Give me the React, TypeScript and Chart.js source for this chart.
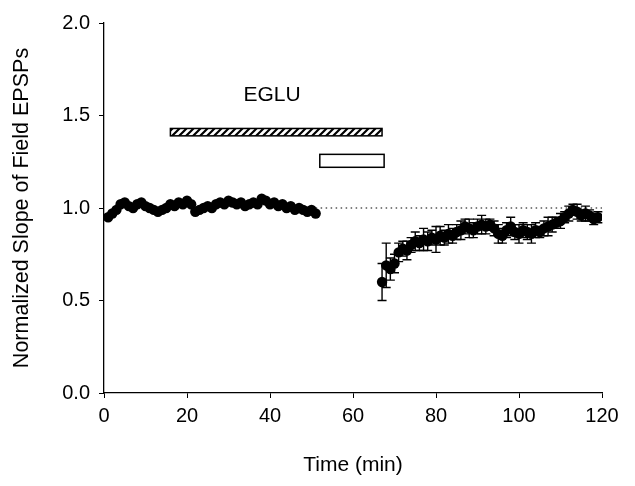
import React, { useEffect, useRef } from "react";
import { Chart, registerables } from "chart.js";

Chart.register(...registerables);

// Baseline (before EGLU washout gap)
const baselineTime = [
  1, 2, 3, 4, 5, 6, 7, 8, 9, 10, 11, 12, 13, 14, 15, 16, 17, 18, 19, 20, 21, 22, 23, 24, 25,
  26, 27, 28, 29, 30, 31, 32, 33, 34, 35, 36, 37, 38, 39, 40, 41, 42, 43, 44, 45, 46, 47, 48,
  49, 50, 51,
];
const baselineSlope = [
  0.95, 0.97, 0.99, 1.02, 1.03, 1.01, 1.0, 1.02, 1.03, 1.01, 1.0, 0.99, 0.98, 0.99, 1.0, 1.02,
  1.01, 1.03, 1.02, 1.04, 1.02, 0.98, 0.99, 1.0, 1.01, 1.0, 1.02, 1.03, 1.02, 1.04, 1.03, 1.02,
  1.03, 1.01, 1.02, 1.03, 1.02, 1.05, 1.04, 1.02, 1.03, 1.01, 1.02, 1.0, 1.01, 0.99, 1.0, 0.99,
  0.98, 0.99, 0.97,
];

// Recovery phase
const recoveryTime = [
  67, 68, 69, 70, 71, 72, 73, 74, 75, 76, 77, 78, 79, 80, 81, 82, 83, 84, 85, 86, 87, 88, 89,
  90, 91, 92, 93, 94, 95, 96, 97, 98, 99, 100, 101, 102, 103, 104, 105, 106, 107, 108, 109, 110,
  111, 112, 113, 114, 115, 116, 117, 118, 119,
];
const recoverySlope = [
  0.6, 0.69, 0.67, 0.7, 0.76, 0.78, 0.77, 0.8, 0.82, 0.81, 0.83, 0.82, 0.84, 0.83, 0.85, 0.84,
  0.86, 0.85, 0.87, 0.88, 0.9, 0.89, 0.88, 0.9, 0.91, 0.9, 0.91, 0.89, 0.86, 0.85, 0.88, 0.9,
  0.87, 0.86, 0.88, 0.87, 0.86, 0.88, 0.87, 0.89, 0.9, 0.91, 0.92, 0.93, 0.95, 0.97, 0.99, 0.98,
  0.96, 0.97, 0.96, 0.94, 0.95,
];
const recoveryError = [
  0.1, 0.12, 0.06, 0.05, 0.05, 0.04, 0.05, 0.04, 0.05, 0.04, 0.06, 0.05, 0.04, 0.07, 0.05, 0.04,
  0.05, 0.04, 0.04, 0.05, 0.04, 0.05, 0.04, 0.04, 0.05, 0.04, 0.03, 0.04, 0.05, 0.04, 0.04,
  0.05, 0.04, 0.05, 0.04, 0.04, 0.05, 0.04, 0.03, 0.04, 0.05, 0.04, 0.03, 0.04, 0.03, 0.04,
  0.03, 0.04, 0.03, 0.04, 0.03, 0.03, 0.03,
];

// Dotted reference at 1.0
const refLineTime = [51, 120];
const refLineValue = [1.0, 1.0];

// Application bars (data units)
const hatchBarTime = [16, 67];
const hatchBarValue = [1.39, 1.43];
const openBarTime = [52, 67.5];
const openBarValue = [1.22, 1.29];
const drugLabel = "EGLU";
const drugLabelPos = [40.5, 1.61];

const xTicks = [0, 20, 40, 60, 80, 100, 120];
const yTicks = [0, 0.5, 1.0, 1.5, 2.0];

const FONT = "'Liberation Sans', Arial, Helvetica, sans-serif";

function makeHatch(ctx: CanvasRenderingContext2D) {
  const c = document.createElement("canvas");
  c.width = 7;
  c.height = 7;
  const g = c.getContext("2d")!;
  g.fillStyle = "#fff";
  g.fillRect(0, 0, 7, 7);
  g.strokeStyle = "#000";
  g.lineWidth = 2.2;
  g.beginPath();
  g.moveTo(-1, 8);
  g.lineTo(8, -1);
  g.moveTo(-4.5, 4.5);
  g.lineTo(4.5, -4.5);
  g.moveTo(2.5, 11.5);
  g.lineTo(11.5, 2.5);
  g.stroke();
  return ctx.createPattern(c, "repeat");
}

const overlayPlugin = {
  id: "overlay",
  beforeDatasetsDraw(chart: any) {
    const { ctx, scales } = chart;
    const xs = scales.x;
    const ys = scales.y;
    // error bars
    ctx.save();
    ctx.strokeStyle = "#000";
    ctx.lineWidth = 1.4;
    recoveryTime.forEach((t, i) => {
      const px = xs.getPixelForValue(t);
      const hi = ys.getPixelForValue(recoverySlope[i] + recoveryError[i]);
      const lo = ys.getPixelForValue(recoverySlope[i] - recoveryError[i]);
      ctx.beginPath();
      ctx.moveTo(px, hi);
      ctx.lineTo(px, lo);
      ctx.moveTo(px - 4.5, hi);
      ctx.lineTo(px + 4.5, hi);
      ctx.moveTo(px - 4.5, lo);
      ctx.lineTo(px + 4.5, lo);
      ctx.stroke();
    });
    ctx.restore();
  },
  afterDatasetsDraw(chart: any) {
    const { ctx, scales } = chart;
    const xs = scales.x;
    const ys = scales.y;
    ctx.save();
    // hatched bar
    const hx0 = xs.getPixelForValue(hatchBarTime[0]);
    const hx1 = xs.getPixelForValue(hatchBarTime[1]);
    const hy0 = ys.getPixelForValue(hatchBarValue[1]);
    const hy1 = ys.getPixelForValue(hatchBarValue[0]);
    ctx.fillStyle = makeHatch(ctx) || "#888";
    ctx.fillRect(hx0, hy0, hx1 - hx0, hy1 - hy0);
    ctx.strokeStyle = "#000";
    ctx.lineWidth = 1.5;
    ctx.strokeRect(hx0, hy0, hx1 - hx0, hy1 - hy0);
    // open bar
    const ox0 = xs.getPixelForValue(openBarTime[0]);
    const ox1 = xs.getPixelForValue(openBarTime[1]);
    const oy0 = ys.getPixelForValue(openBarValue[1]);
    const oy1 = ys.getPixelForValue(openBarValue[0]);
    ctx.fillStyle = "#fff";
    ctx.fillRect(ox0, oy0, ox1 - ox0, oy1 - oy0);
    ctx.lineWidth = 1.5;
    ctx.strokeRect(ox0, oy0, ox1 - ox0, oy1 - oy0);
    // label
    ctx.fillStyle = "#000";
    ctx.font = `21px ${FONT}`;
    ctx.textAlign = "center";
    ctx.textBaseline = "middle";
    ctx.fillText(drugLabel, xs.getPixelForValue(drugLabelPos[0]), ys.getPixelForValue(drugLabelPos[1]));
    ctx.restore();
  },
};

export default function App() {
  const ref = useRef<HTMLCanvasElement>(null);
  useEffect(() => {
    if (!ref.current) return;
    const chart = new Chart(ref.current, {
      type: "scatter",
      data: {
        datasets: [
          {
            type: "line",
            data: refLineTime.map((t, i) => ({ x: t, y: refLineValue[i] })),
            borderColor: "#000",
            borderWidth: 1.2,
            borderDash: [1.5, 3.5],
            pointRadius: 0,
            fill: false,
          } as any,
          {
            data: baselineTime.map((t, i) => ({ x: t, y: baselineSlope[i] })),
            backgroundColor: "#000",
            borderColor: "#000",
            borderWidth: 0,
            pointRadius: 5.2,
          },
          {
            data: recoveryTime.map((t, i) => ({ x: t, y: recoverySlope[i] })),
            backgroundColor: "#000",
            borderColor: "#000",
            borderWidth: 0,
            pointRadius: 5.2,
          },
        ],
      },
      options: {
        animation: false,
        responsive: false,
        layout: { padding: { top: 23, right: 33, bottom: 0, left: 0 } },
        plugins: {
          legend: { display: false },
          tooltip: { enabled: false },
        },
        scales: {
          x: {
            type: "linear",
            min: 0,
            max: 120,
            afterFit: (s: any) => {
              s.height = 93;
            },
            afterBuildTicks: (s: any) => {
              s.ticks = xTicks.map((v) => ({ value: v }));
            },
            ticks: {
              color: "#000",
              font: { size: 20, family: FONT },
              padding: 6,
              maxRotation: 0,
              callback: (v: any) => String(v),
            },
            grid: {
              display: true,
              drawOnChartArea: false,
              drawTicks: true,
              tickLength: 5,
              color: "#000",
            },
            border: { display: true, color: "#000", width: 1.3 },
            title: {
              display: true,
              text: "Time (min)",
              color: "#000",
              font: { size: 21, family: FONT },
              padding: { top: 0, bottom: 8 },
            },
          },
          y: {
            type: "linear",
            min: 0,
            max: 2,
            afterFit: (s: any) => {
              s.width = 104;
            },
            afterBuildTicks: (s: any) => {
              s.ticks = yTicks.map((v) => ({ value: v }));
            },
            ticks: {
              color: "#000",
              font: { size: 20, family: FONT },
              padding: 9,
              callback: (v: any) => Number(v).toFixed(1),
            },
            grid: {
              display: true,
              drawOnChartArea: false,
              drawTicks: true,
              tickLength: 5,
              color: "#000",
            },
            border: { display: true, color: "#000", width: 1.3 },
            title: {
              display: true,
              text: "Normalized Slope of Field EPSPs",
              color: "#000",
              font: { size: 21.5, family: FONT },
              padding: { top: 9, bottom: 0 },
            },
          },
        },
      },
      plugins: [overlayPlugin],
    });
    return () => chart.destroy();
  }, []);
  return (
    <div style={{ position: "fixed", left: 0, top: 0, width: 635, height: 486, background: "#fff" }}>
      <canvas ref={ref} width={635} height={486} style={{ display: "block" }} />
    </div>
  );
}
